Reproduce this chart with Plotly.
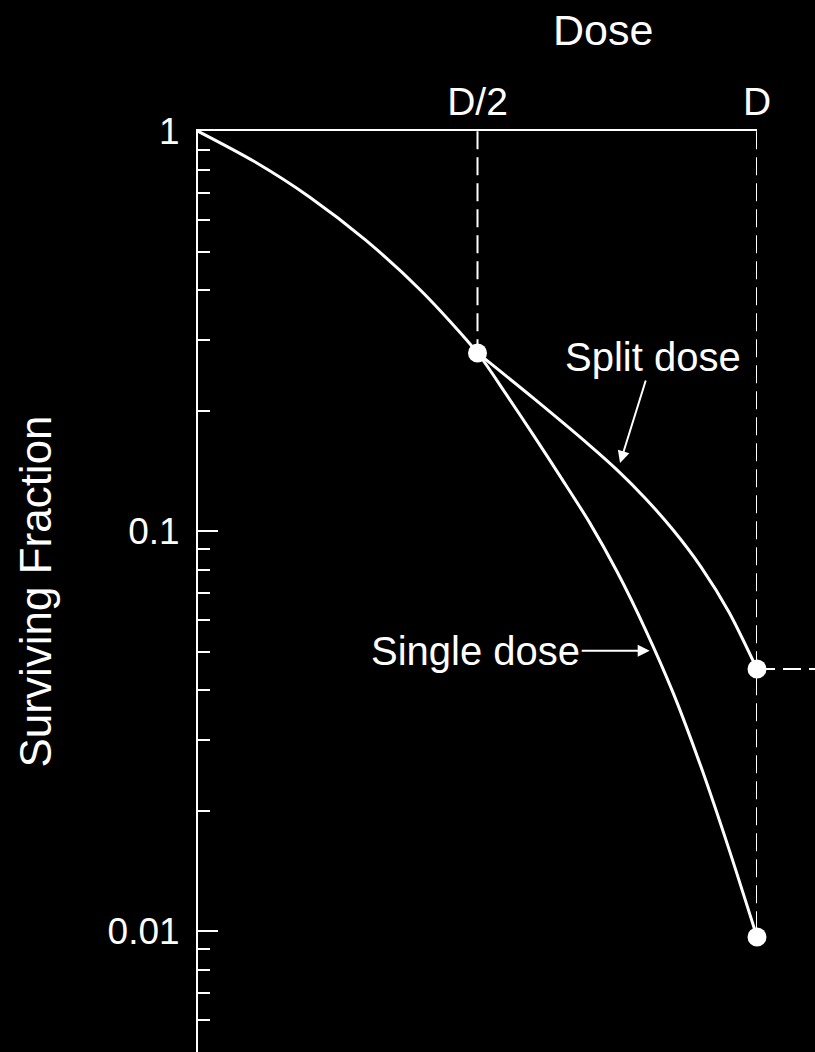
import math
import plotly.graph_objects as go

# ---- data ----
dose_single = [0.0, 0.1, 0.2, 0.3, 0.4, 0.5, 0.55, 0.6, 0.65, 0.7, 0.75, 0.8, 0.85, 0.9, 0.95, 1.0]
sf_single = [1.0, 0.841, 0.684, 0.534, 0.398, 0.279, 0.2213, 0.1738, 0.1357, 0.1053,
             0.0790, 0.0569, 0.0394, 0.0257, 0.0160, 0.00966]

dose_split = [0.5, 0.6, 0.7, 0.75, 0.8, 0.85, 0.9, 0.95, 1.0]
sf_split = [0.279, 0.215, 0.1641, 0.1421, 0.1209, 0.1006, 0.0813, 0.0627, 0.0452]

point_dose = [0.5, 1.0, 1.0]
point_sf = [0.279, 0.0452, 0.00966]

x_tickvals = [0.5, 1.0]
x_ticktext = ["D/2", "D"]
y_tickvals = [0.01, 0.1, 1]
y_ticktext = ["0.01", "0.1", "1"]
y_minor_vals = [0.006, 0.007, 0.008, 0.009,
                0.02, 0.03, 0.04, 0.05, 0.06, 0.07, 0.08, 0.09,
                0.2, 0.3, 0.4, 0.5, 0.6, 0.7, 0.8, 0.9]

split_arrow_tip = (0.755, 0.148)
single_arrow_tip = (0.808, 0.0502)

FONT = "Liberation Sans, Arial, Helvetica, sans-serif"
WHITE = "white"
DASH = "18px,8px"

fig = go.Figure()

# dashed guides from the top axis down to the points
fig.add_trace(go.Scatter(x=[point_dose[0], point_dose[0]], y=[1, point_sf[0]],
                         mode="lines", line=dict(color=WHITE, width=2, dash=DASH),
                         hoverinfo="skip", showlegend=False))
fig.add_trace(go.Scatter(x=[point_dose[2], point_dose[2]], y=[1, point_sf[2]],
                         mode="lines", line=dict(color=WHITE, width=2, dash=DASH),
                         hoverinfo="skip", showlegend=False))

# curves
fig.add_trace(go.Scatter(x=dose_single, y=sf_single, mode="lines", name="Single dose",
                         line=dict(color=WHITE, width=3, shape="spline", smoothing=0.8),
                         showlegend=False))
fig.add_trace(go.Scatter(x=dose_split, y=sf_split, mode="lines", name="Split dose",
                         line=dict(color=WHITE, width=3, shape="spline", smoothing=0.8),
                         showlegend=False))
# points
fig.add_trace(go.Scatter(x=point_dose, y=point_sf, mode="markers",
                         marker=dict(color=WHITE, size=19, line=dict(width=0)),
                         cliponaxis=False, showlegend=False))

# horizontal dashed guide leaving the split-dose point to the right
fig.add_shape(type="line", xref="paper", x0=1.0, x1=1.2, yref="y",
              y0=point_sf[1], y1=point_sf[1],
              line=dict(color=WHITE, width=2, dash=DASH))

fig.add_annotation(text="Dose", xref="paper", yref="paper", x=0.7245, y=1.1097,
                   xanchor="center", yanchor="middle",
                   showarrow=False, font=dict(family=FONT, size=43, color=WHITE))
fig.add_annotation(text="Split dose", x=split_arrow_tip[0], y=math.log10(split_arrow_tip[1]),
                   ax=33, ay=-106, showarrow=True, arrowhead=2, arrowsize=1.2, arrowwidth=2,
                   arrowcolor=WHITE, font=dict(family=FONT, size=40, color=WHITE))
fig.add_annotation(text="Single dose", x=single_arrow_tip[0], y=math.log10(single_arrow_tip[1]),
                   ax=-174, ay=0, showarrow=True, arrowhead=2, arrowsize=1.2, arrowwidth=2,
                   arrowcolor=WHITE, font=dict(family=FONT, size=40, color=WHITE))

fig.update_layout(
    width=815, height=1052,
    margin=dict(l=198, r=58, t=131, b=0, autoexpand=False),
    paper_bgcolor="black", plot_bgcolor="black",
    font=dict(family=FONT, color=WHITE),
    xaxis=dict(side="top", range=[0, 1], showline=True, linecolor=WHITE, linewidth=2,
               showgrid=False, zeroline=False, tickvals=x_tickvals, ticktext=x_ticktext,
               ticks="", tickfont=dict(family=FONT, size=39, color=WHITE),
               ticklabelstandoff=-2, automargin=False),
    yaxis=dict(type="log", range=[-2.3025, 0.0005], showline=True, linecolor=WHITE, linewidth=2,
               showgrid=False, zeroline=False, tickvals=y_tickvals, ticktext=y_ticktext,
               ticks="inside", ticklen=20, tickwidth=2, tickcolor=WHITE,
               tickfont=dict(family=FONT, size=37, color=WHITE), ticklabelstandoff=9,
               minor=dict(tickvals=y_minor_vals, ticks="inside", ticklen=12, tickwidth=2,
                          tickcolor=WHITE, showgrid=False),
               title=dict(text="Surviving Fraction", font=dict(family=FONT, size=44, color=WHITE),
                          standoff=42),
               automargin=False),
)

fig.write_html("out.html", config={"displayModeBar": False},
               post_script="document.body.style.margin='0';document.body.style.background='black';")
